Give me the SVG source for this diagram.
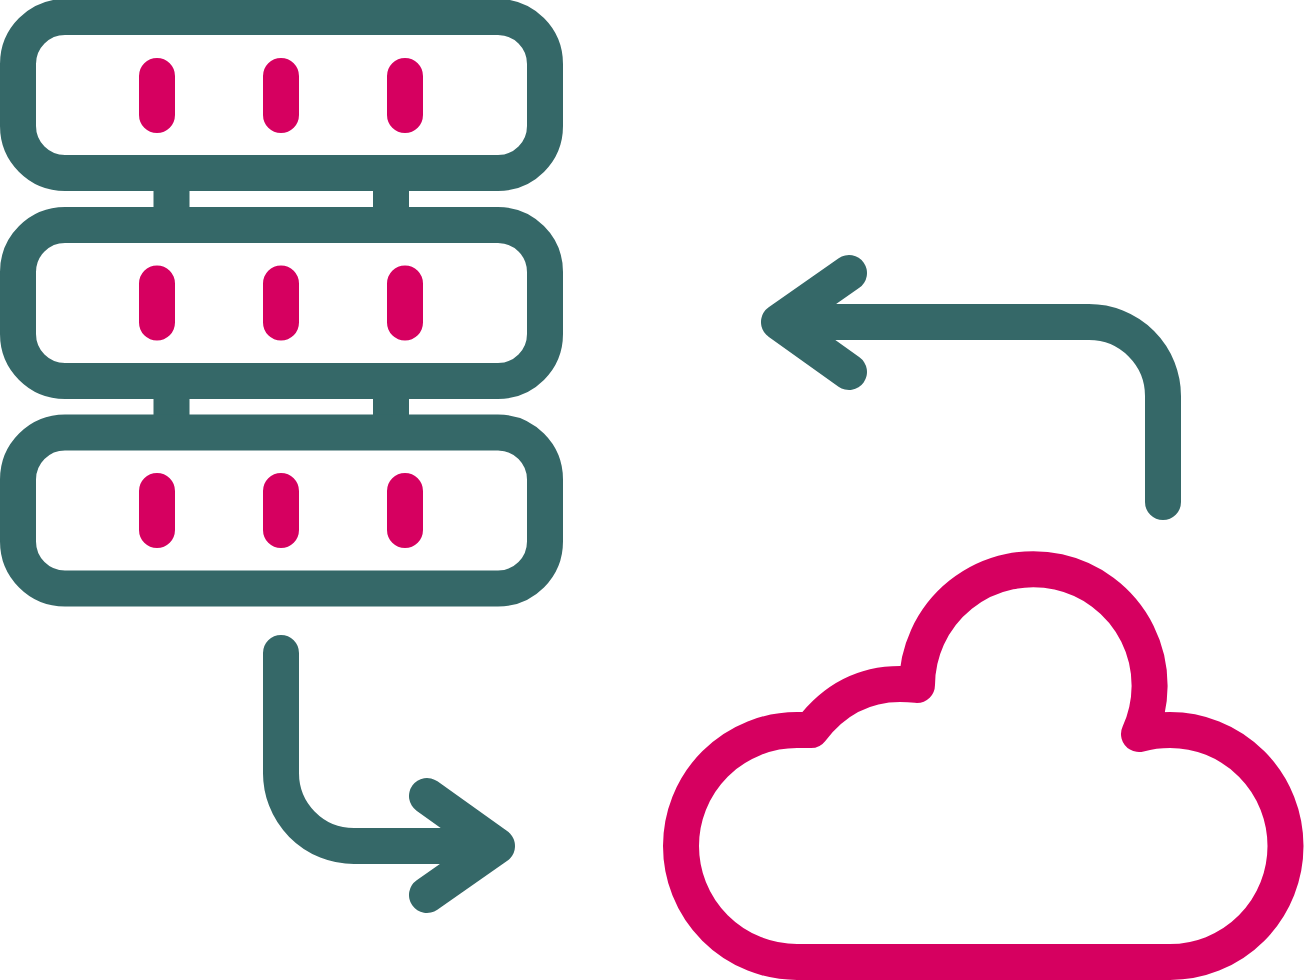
<svg xmlns="http://www.w3.org/2000/svg" width="1304" height="980" viewBox="0 0 1304 980">
<style>
.t{fill:none;stroke:#356868;stroke-width:36;stroke-linecap:round;stroke-linejoin:round}
.b{fill:none;stroke:#356868;stroke-width:36}
.p{fill:none;stroke:#d60060;stroke-width:36;stroke-linecap:round;stroke-linejoin:round}
</style>
<rect width="1304" height="980" fill="#fff"/>
<g id="connectors">
<path class="b" d="M171.500 173V225M391 173V225M171.500 381V433M391 381V433"/>
<path class="t" d="M281 653V772A73 73 0 0 0 354 846H497M427 796L497 846M427 895L497 846"/>
<path class="t" d="M1163 502V396A74 74 0 0 0 1089 322H779M849 273L779 322M849 372L779 322"/>
</g>
<g id="server-1"><rect class="b" x="18" y="17" width="527" height="156" rx="47"/><path class="p" d="M157 76V115M281 76V115M405 76V115"/></g>
<g id="server-2"><rect class="b" x="18" y="225" width="527" height="156" rx="47"/><path class="p" d="M157 283.500V322.500M281 283.500V322.500M405 283.500V322.500"/></g>
<g id="server-3"><rect class="b" x="18" y="432.500" width="527" height="156" rx="47"/><path class="p" d="M157 491V530M281 491V530M405 491V530"/></g>
<g id="cloud"><path class="p" d="M797 962H1170A115.500 116 0 0 0 1170 730Q1154 730 1139 734A116.300 116.300 0 1 0 917 685Q909 684 900 684Q846 684 811 730Q804 730 797 730A116 116 0 0 0 797 962Z"/></g>
</svg>
